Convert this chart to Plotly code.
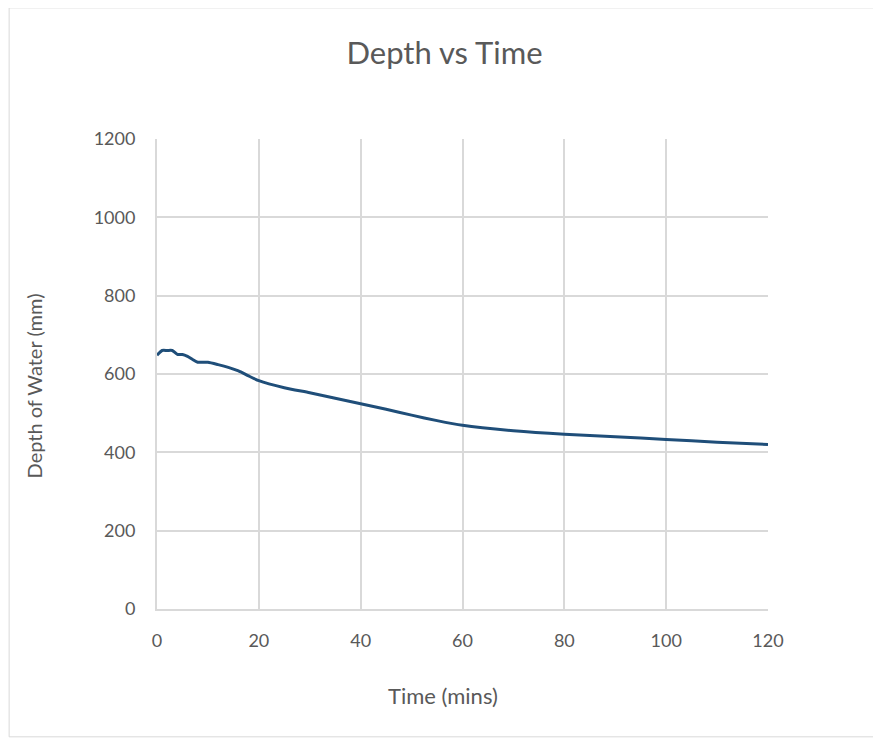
"""Depth vs Time line chart."""

import plotly.graph_objects as go

TIME_MINS = [0, 1, 2, 3, 4, 5, 6, 7, 8, 9, 10, 12, 14, 16, 18, 20,
             25, 30, 35, 40, 45, 50, 55, 60, 70, 80, 90, 100, 110, 120]
DEPTH_MM = [648, 660, 660, 660, 650, 650, 645, 637, 630, 630, 630, 624, 617,
            608, 595, 583, 565, 552, 538, 524, 510, 495, 481, 469, 455, 446,
            440, 433, 426, 420]

LINE_BLUE = "#1F4E79"
TEXT_GREY = "#595959"
GRID_GREY = "#D9D9D9"
FONT = "Lato, Open Sans, sans-serif"

fig = go.Figure(go.Scatter(
    x=TIME_MINS,
    y=DEPTH_MM,
    mode="lines",
    line=dict(color=LINE_BLUE, width=3, shape="spline", smoothing=0.6),
    showlegend=False,
))

# page body adds an 8px offset, so the figure is 8px smaller than the window
fig.update_layout(
    width=873,
    height=731,
    paper_bgcolor="white",
    plot_bgcolor="white",
    margin=dict(l=149, r=113, t=131, b=130),
    font=dict(family=FONT, color=TEXT_GREY, size=18),
    title=dict(text="Depth vs Time", x=0.5, xanchor="center",
               y=0.938, yanchor="middle",
               font=dict(size=31, color=TEXT_GREY, family=FONT)),
    xaxis=dict(
        range=[0, 120], dtick=20, showgrid=True, gridcolor=GRID_GREY,
        gridwidth=2, zeroline=False, showline=True, linecolor=GRID_GREY,
        linewidth=2, ticks="", ticklabelstandoff=14,
    ),
    yaxis=dict(
        range=[0, 1200], dtick=200, showgrid=True, gridcolor=GRID_GREY,
        gridwidth=2, zeroline=False, showline=True, linecolor=GRID_GREY,
        linewidth=2, ticks="", ticklabelstandoff=16,
    ),
    annotations=[
        dict(text="Time (mins)", xref="paper", yref="paper",
             x=0.468, y=-0.183, xanchor="center", yanchor="middle",
             showarrow=False, font=dict(size=22)),
        dict(text="Depth of Water (mm)", xref="paper", yref="paper",
             x=-0.201, y=0.474, xanchor="center", yanchor="middle",
             textangle=-90, showarrow=False, font=dict(size=20)),
    ],
    shapes=[dict(type="rect", xref="paper", yref="paper",
                 x0=-0.242, x1=1.183, y0=-0.272, y1=1.279,
                 line=dict(color=GRID_GREY, width=1), layer="below")],
)

fig.write_html("out.html")
